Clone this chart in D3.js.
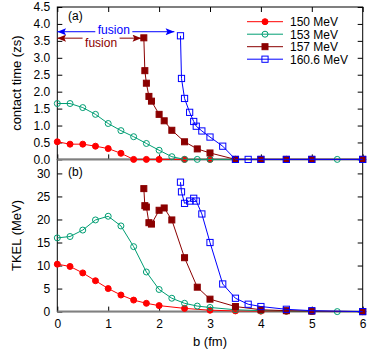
<!DOCTYPE html>
<html>
<head>
<meta charset="utf-8">
<script src="https://cdn.jsdelivr.net/npm/d3@7"></script>
<style>
  body { margin: 0; background: #fff; }
  svg { display: block; font-family: "Liberation Sans", Arial, sans-serif; }
</style>
</head>
<body>
<svg id="chart" width="382" height="351"></svg>
<script>
// tick values
const bTicks = [0, 1, 2, 3, 4, 5, 6];
const timeTicks = [0, 0.5, 1, 1.5, 2, 2.5, 3, 3.5, 4, 4.5];
const tkelTicks = [0, 5, 10, 15, 20, 25, 30];

// 150 MeV
const b150 = [0, 0.25, 0.5, 0.75, 1, 1.25, 1.5, 1.75, 2, 2.5, 3, 3.5, 4, 4.5, 5, 6];
const t150 = [0.52, 0.45, 0.45, 0.39, 0.32, 0.18, 0, 0, 0, 0, 0, 0, 0, 0, 0, 0];
const e150 = [10.3, 9.8, 8.4, 6.7, 5.0, 3.6, 2.5, 1.8, 1.3, 0.7, 0.3, 0.15, 0.1, 0.05, 0.02, 0];

// 153 MeV
const b153 = [0, 0.25, 0.5, 0.75, 1, 1.25, 1.5, 1.75, 2, 2.25, 2.5, 2.75, 3, 3.5, 4, 4.5, 5, 5.5, 6];
const t153 = [1.65, 1.65, 1.53, 1.33, 1.06, 0.85, 0.67, 0.47, 0.27, 0.08, 0, 0, 0, 0, 0, 0, 0, 0, 0];
const e153 = [16.0, 16.3, 17.7, 19.9, 20.7, 18.6, 14.1, 8.6, 4.8, 2.9, 1.8, 1.2, 0.9, 0.4, 0.2, 0.1, 0.05, 0, 0];

// 157 MeV
const b157 = [1.7, 1.72, 1.75, 1.8, 1.85, 2, 2.1, 2.25, 2.5, 2.75, 3, 3.5, 4, 4.5, 5, 6];
const t157 = [3.59, 2.62, 2.25, 1.86, 1.72, 1.33, 1.14, 0.86, 0.52, 0.31, 0.19, 0, 0, 0, 0, 0];
const e157 = [26.7, 23.0, 22.7, 19.3, 19.0, 22.0, 22.5, 19.9, 11.7, 5.3, 2.7, 1.1, 0.4, 0.2, 0.1, 0];

// 160.6 MeV
const b160 = [2.42, 2.44, 2.5, 2.6, 2.68, 2.73, 2.84, 3, 3.25, 3.5, 3.75, 4, 4.5, 5, 6];
const t160 = [3.65, 2.39, 1.80, 1.39, 1.12, 0.98, 0.84, 0.66, 0.39, 0, 0, 0, 0, 0, 0];
const e160 = [28.1, 26.0, 23.5, 24.0, 24.6, 24.0, 21.2, 15.0, 6.0, 2.9, 1.6, 1.1, 0.5, 0.2, 0];

// fusion arrows (b end, contact time level) and their labels
const arrowEnd = [2.30, 1.65];
const arrowLevel = [3.77, 3.58];
const arrowLabelB = [1.11, 0.86];
const arrowColor = ["#0000ff", "#8b0000"];

const series = [
  { name: "150 MeV", b: b150, t: t150, e: e150, color: "#ff0000", shape: "circle", filled: true },
  { name: "153 MeV", b: b153, t: t153, e: e153, color: "#009e73", shape: "circle", filled: false },
  { name: "157 MeV", b: b157, t: t157, e: e157, color: "#8b0000", shape: "square", filled: true },
  { name: "160.6 MeV", b: b160, t: t160, e: e160, color: "#0000ff", shape: "square", filled: false }
];

const FONT = "Liberation Sans, Arial, sans-serif";
const svg = d3.select("#chart");

const pLeft = 57.3, pRight = 362.7, pTop = 7, pMid = 159.4, pBottom = 311.6;

const x = d3.scaleLinear().domain([0, 6]).range([pLeft, pRight]);
const yT = d3.scaleLinear().domain([0, 4.5]).range([pMid, pTop]);
const yE = d3.scaleLinear().domain([0, 33]).range([pBottom, pMid + 0.2]);

// arrowheads
const defs = svg.append("defs");
arrowColor.forEach((c, i) => {
  defs.append("marker")
    .attr("id", `head${i}`)
    .attr("viewBox", "0 0 10 8")
    .attr("refX", 10).attr("refY", 4)
    .attr("markerUnits", "userSpaceOnUse")
    .attr("markerWidth", 10).attr("markerHeight", 7)
    .attr("orient", "auto-start-reverse")
    .append("path")
      .attr("d", "M0,0 L10,4 L0,8 L2,4 Z")
      .attr("fill", c);
});

// frames
[[pTop, pMid], [pMid, pBottom]].forEach(([y0, y1]) => {
  svg.append("rect")
    .attr("x", pLeft).attr("y", y0)
    .attr("width", pRight - pLeft).attr("height", y1 - y0)
    .attr("fill", "none").attr("stroke", "#000").attr("stroke-width", 1);
});

// axes with inward ticks
const styleAxis = g => {
  g.select(".domain").remove();
  g.attr("font-size", 12).attr("font-family", FONT);
};

svg.append("g").attr("transform", `translate(${pLeft},0)`)
  .call(d3.axisLeft(yT).tickValues(timeTicks).tickFormat(d3.format(".1f"))
    .tickSizeInner(-5).tickSizeOuter(0).tickPadding(7))
  .call(styleAxis);
svg.append("g").attr("transform", `translate(${pRight},0)`)
  .call(d3.axisRight(yT).tickValues(timeTicks).tickFormat("").tickSizeInner(-5).tickSizeOuter(0))
  .call(styleAxis);
svg.append("g").attr("transform", `translate(0,${pMid})`)
  .call(d3.axisBottom(x).tickValues(bTicks).tickFormat("").tickSizeInner(-5).tickSizeOuter(0))
  .call(styleAxis);
svg.append("g").attr("transform", `translate(0,${pTop})`)
  .call(d3.axisTop(x).tickValues(bTicks).tickFormat("").tickSizeInner(-5).tickSizeOuter(0))
  .call(styleAxis);

svg.append("g").attr("transform", `translate(${pLeft},0)`)
  .call(d3.axisLeft(yE).tickValues(tkelTicks).tickFormat(d3.format("d"))
    .tickSizeInner(-5).tickSizeOuter(0).tickPadding(7))
  .call(styleAxis);
svg.append("g").attr("transform", `translate(${pRight},0)`)
  .call(d3.axisRight(yE).tickValues(tkelTicks).tickFormat("").tickSizeInner(-5).tickSizeOuter(0))
  .call(styleAxis);
svg.append("g").attr("transform", `translate(0,${pBottom})`)
  .call(d3.axisBottom(x).tickValues(bTicks).tickFormat(d3.format("d"))
    .tickSizeInner(-5).tickSizeOuter(0).tickPadding(8))
  .call(styleAxis);

// zero lines
[yT(0), yE(0)].forEach(y0 => {
  svg.append("line")
    .attr("x1", pLeft).attr("x2", pRight).attr("y1", y0).attr("y2", y0)
    .attr("stroke", "#808080").attr("stroke-width", 2);
});

// markers
function drawMarker(g, cx, cy, s) {
  if (s.shape === "circle") {
    g.append("circle")
      .attr("cx", cx).attr("cy", cy)
      .attr("r", s.filled ? 3.0 : 3.0)
      .attr("fill", s.filled ? s.color : "none")
      .attr("stroke", s.color).attr("stroke-width", 1);
  } else {
    const h = s.filled ? 3.0 : 3.1;
    g.append("rect")
      .attr("x", cx - h).attr("y", cy - h)
      .attr("width", 2 * h).attr("height", 2 * h)
      .attr("fill", s.filled ? s.color : "none")
      .attr("stroke", s.color).attr("stroke-width", 1);
  }
}

const panels = [{ key: "t", y: yT }, { key: "e", y: yE }];
panels.forEach(p => {
  const g = svg.append("g");
  series.forEach(s => {
    const pts = s.b.map((b, i) => [x(b), p.y(s[p.key][i])]);
    g.append("path")
      .attr("d", d3.line()(pts))
      .attr("fill", "none").attr("stroke", s.color).attr("stroke-width", 1);
    pts.forEach(([cx, cy]) => drawMarker(g, cx, cy, s));
  });
});

// fusion arrows with labels
arrowEnd.forEach((bEnd, i) => {
  const yy = yT(arrowLevel[i]);
  svg.append("line")
    .attr("x1", x(0)).attr("x2", x(bEnd)).attr("y1", yy).attr("y2", yy)
    .attr("stroke", arrowColor[i]).attr("stroke-width", 1)
    .attr("marker-start", `url(#head${i})`)
    .attr("marker-end", `url(#head${i})`);
  const label = svg.append("text")
    .attr("x", x(arrowLabelB[i])).attr("y", yy + 4.2 - (i === 0 ? 1.5 : -4.5))
    .attr("text-anchor", "middle")
    .attr("font-size", 12)
    .attr("fill", arrowColor[i])
    .text("fusion");
  const bb = label.node().getBBox();
  svg.insert("rect", () => label.node())
    .attr("x", bb.x - 2.5).attr("y", bb.y)
    .attr("width", bb.width + 5).attr("height", bb.height)
    .attr("fill", "#fff");
});

// panel labels
svg.append("text").attr("x", 68).attr("y", 20).attr("font-size", 12).text("(a)");
svg.append("text").attr("x", 68).attr("y", 176).attr("font-size", 12).text("(b)");

// axis titles
svg.append("text")
  .attr("transform", `translate(21,${(pTop + pMid) / 2}) rotate(-90)`)
  .attr("text-anchor", "middle").attr("font-size", 13)
  .text("contact time (zs)");
svg.append("text")
  .attr("transform", `translate(21,${(pMid + pBottom) / 2}) rotate(-90)`)
  .attr("text-anchor", "middle").attr("font-size", 13)
  .text("TKEL (MeV)");
svg.append("text")
  .attr("x", (pLeft + pRight) / 2).attr("y", 346)
  .attr("text-anchor", "middle").attr("font-size", 13)
  .text("b (fm)");

// legend
const legend = svg.append("g");
series.forEach((s, i) => {
  const ly = 21.7 + i * 12.5;
  legend.append("line")
    .attr("x1", 247).attr("x2", 283).attr("y1", ly).attr("y2", ly)
    .attr("stroke", s.color).attr("stroke-width", 1);
  drawMarker(legend, 265, ly, s);
  legend.append("text")
    .attr("x", 290).attr("y", ly + 4.3)
    .attr("font-size", 12)
    .text(s.name);
});
</script>
</body>
</html>
